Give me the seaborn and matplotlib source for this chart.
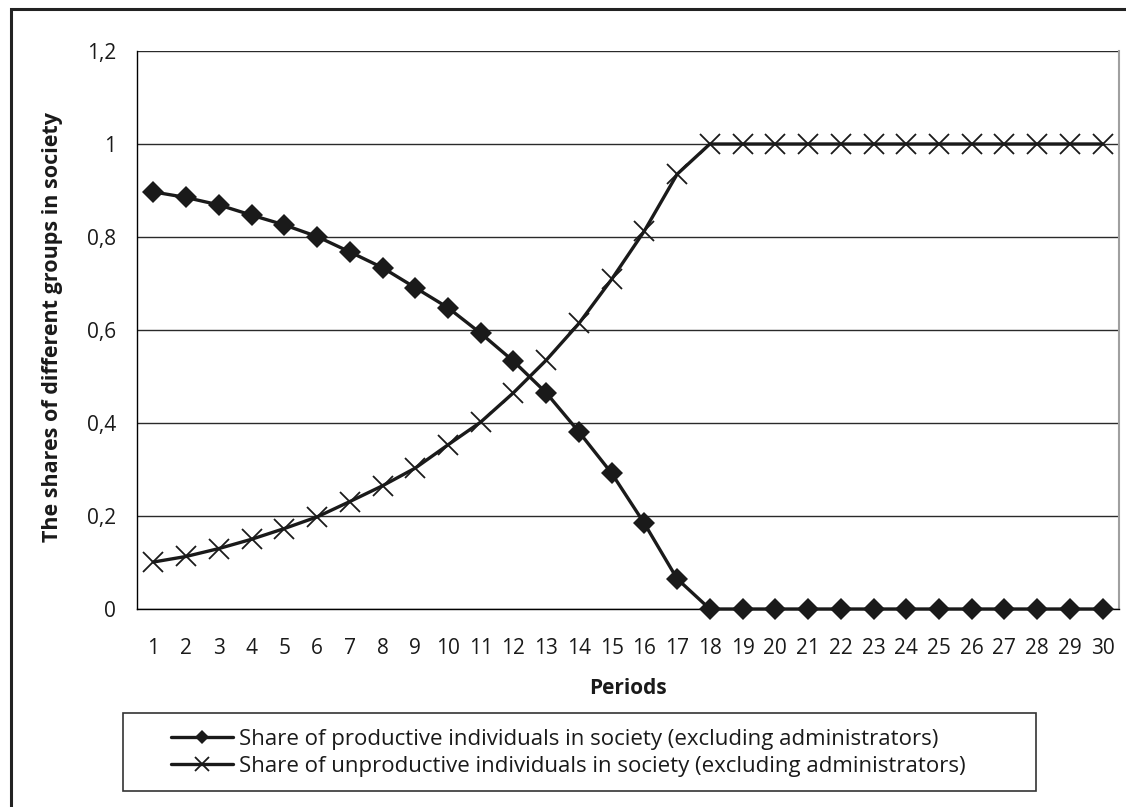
import matplotlib
matplotlib.use("Agg")
import matplotlib.pyplot as plt
from matplotlib.patches import Rectangle
from matplotlib.ticker import FixedLocator, FuncFormatter
import seaborn as sns
import pandas as pd

periods = list(range(1, 31))
productive = [0.897, 0.885, 0.869, 0.847, 0.826, 0.801, 0.768, 0.734, 0.691, 0.648,
              0.593, 0.533, 0.465, 0.381, 0.292, 0.184, 0.065, 0, 0, 0,
              0, 0, 0, 0, 0, 0, 0, 0, 0, 0]
unproductive = [0.101, 0.113, 0.130, 0.150, 0.173, 0.198, 0.231, 0.265, 0.303, 0.353,
                0.402, 0.465, 0.535, 0.614, 0.709, 0.813, 0.935, 1, 1, 1,
                1, 1, 1, 1, 1, 1, 1, 1, 1, 1]
label_prod = 'Share of productive individuals in society (excluding administrators)'
label_unprod = 'Share of unproductive individuals in society (excluding administrators)'
y_ticks = [0, 0.2, 0.4, 0.6, 0.8, 1.0, 1.2]

df = pd.DataFrame({'period': periods, 'productive': productive, 'unproductive': unproductive})

sns.set_style('white')
plt.rcParams['font.family'] = ['Open Sans', 'DejaVu Sans']

W, H = 1126, 807
INK = '#1a1a1a'
fig = plt.figure(figsize=(W / 100, H / 100), dpi=100)
ax = fig.add_axes([137 / W, 1 - 609 / H, (1119 - 137) / W, (609 - 51) / H])

sns.lineplot(data=df, x='period', y='productive', ax=ax, color=INK, linewidth=2.4,
             marker='D', markersize=11.5, markeredgewidth=0, markeredgecolor=INK,
             clip_on=False, zorder=4, label=label_prod)
sns.lineplot(data=df, x='period', y='unproductive', ax=ax, color=INK, linewidth=2.4,
             marker='x', markersize=15, markeredgewidth=1.3, markeredgecolor=INK,
             clip_on=False, zorder=4, label=label_unprod)

ax.set_xlim(0.5, 30.5)
ax.set_ylim(0, 1.2)

# y axis
ax.yaxis.set_major_locator(FixedLocator(y_ticks))
ax.yaxis.set_major_formatter(FuncFormatter(lambda v, p: ('%g' % round(v, 1)).replace('.', ',')))
ax.tick_params(axis='y', which='major', direction='out', length=9, width=1, color='black',
               labelsize=15, pad=6, labelcolor=INK)
ax.grid(axis='y', color='#2a2a2a', linewidth=1)
ax.set_axisbelow(True)

# x axis: labels on categories, ticks between them
ax.xaxis.set_major_locator(FixedLocator(periods))
ax.xaxis.set_minor_locator(FixedLocator([p + 0.5 for p in range(0, 31)]))
ax.tick_params(axis='x', which='major', length=0, labelsize=15, pad=21, labelcolor=INK)
ax.tick_params(axis='x', which='minor', direction='out', length=8, width=1, color='black')
ax.grid(axis='x', visible=False)

ax.set_xlabel('Periods', fontsize=15, fontweight='bold', color=INK)
ax.xaxis.label.set_va('center')
ax.xaxis.set_label_coords(0.5, (609 - 688) / 558)
ax.set_ylabel('The shares of different groups in society', fontsize=15.5, fontweight='bold',
              color=INK)
ax.yaxis.label.set_va('center')
ax.yaxis.set_label_coords((53 - 137) / 982, 0.506)

for side in ['left', 'bottom']:
    ax.spines[side].set_color('black')
    ax.spines[side].set_linewidth(1)
ax.spines['top'].set_visible(False)
ax.spines['right'].set_color('#a0a0a0')
ax.spines['right'].set_linewidth(1.5)

# legend
handles, labels = ax.get_legend_handles_labels()
ax.get_legend().remove()
fig.legend(handles, labels, loc='center left', bbox_to_anchor=(160 / W, 1 - 753 / H),
           frameon=False, fontsize=16, borderpad=0, handlelength=2.8, handletextpad=0.25,
           labelspacing=0.25, markerscale=0.65, labelcolor=INK)
fig.patches.append(Rectangle((123 / W, 1 - 791 / H), (1036 - 123) / W, (791 - 713) / H,
                             transform=fig.transFigure, fill=False, edgecolor='#333333',
                             linewidth=1.2))

# outer frame
fig.patches.append(Rectangle((11 / W, -0.1), 1.2, 1.1 - 9 / H, transform=fig.transFigure,
                             fill=False, edgecolor='#222222', linewidth=2.2))

fig.savefig('out.png', dpi=100)
